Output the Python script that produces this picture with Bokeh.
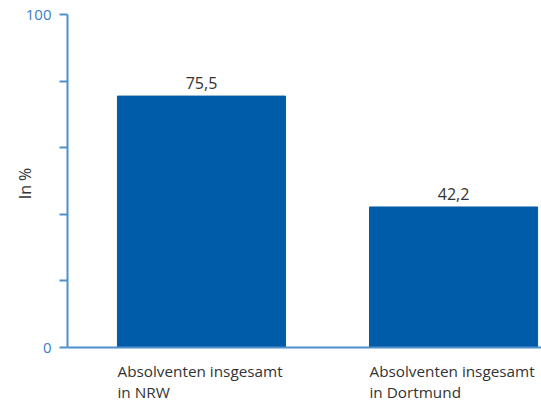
from bokeh.plotting import figure
from bokeh.layouts import column
from bokeh.models import Range1d, FixedTicker, ColumnDataSource, Span
from bokeh.core.properties import value
from bokeh.embed import file_html
from bokeh.resources import INLINE

cat_line1 = ["Absolventen insgesamt", "Absolventen insgesamt"]
cat_line2 = ["in NRW", "in Dortmund"]
values = [75.5, 42.2]
y_ticks = [0, 20, 40, 60, 80, 100]
y_tick_labels = {0: "0", 100: "100"}
y_label = "In %"

FONT = "Open Sans"
BAR = "#005ca8"
AXIS = "#4f8fcb"
TICKTXT = "#3a80c3"
TXT = "#333333"
bar_width = 0.667

xs = list(range(len(values)))
src = ColumnDataSource(dict(x=xs, top=values,
                            lab=[f"{v:.1f}".replace(".", ",") for v in values]))
cat_src = ColumnDataSource(dict(x=[x - bar_width / 2 for x in xs], y=[1] * len(xs),
                                l1=cat_line1, l2=cat_line2))

p = figure(width=541, height=360, output_backend="svg", toolbar_location=None,
           x_range=Range1d(-0.5317, 1.349), y_range=Range1d(-1.5, 100),
           x_axis_location=None,
           min_border_left=67, min_border_right=0, min_border_top=14, min_border_bottom=8)
p.outline_line_color = None
p.grid.grid_line_color = None

p.vbar(x="x", top="top", width=bar_width, bottom=0, color=BAR, source=src)
p.text(x="x", y="top", text="lab", source=src, text_align="center",
       text_baseline="alphabetic", y_offset=-13, text_font=value(FONT),
       text_font_size="16px", text_color=TXT)

# baseline (x axis line)
p.add_layout(Span(location=0, dimension="width", line_color=AXIS, line_width=2))

# y axis
ya = p.yaxis[0]
ya.bounds = (0, 100)
ya.ticker = FixedTicker(ticks=y_ticks)
ya.major_label_overrides = {t: y_tick_labels.get(t, "") for t in y_ticks}
ya.axis_line_color = AXIS
ya.axis_line_width = 2
ya.major_tick_line_color = AXIS
ya.major_tick_line_width = 2
ya.major_tick_out = 8
ya.major_tick_in = 0
ya.minor_tick_line_color = None
ya.major_label_text_color = TICKTXT
ya.major_label_text_font = FONT
ya.major_label_text_font_size = "15px"
ya.major_label_standoff = 8
ya.axis_label = y_label
ya.axis_label_text_font = FONT
ya.axis_label_text_font_size = "16px"
ya.axis_label_text_font_style = "normal"
ya.axis_label_text_color = TXT
ya.axis_label_standoff = -13

# category labels strip below, sharing the x scale
q = figure(width=541, height=40, output_backend="svg", toolbar_location=None,
           x_range=p.x_range, y_range=Range1d(0, 1),
           x_axis_location=None, y_axis_location=None,
           min_border_left=67, min_border_right=0, min_border_top=0, min_border_bottom=0)
q.outline_line_color = None
q.grid.grid_line_color = None
q.text(x="x", y="y", text="l1", source=cat_src, text_align="left",
       text_baseline="alphabetic", y_offset=10, text_font=value(FONT),
       text_font_size="15.3px", text_color=TXT)
q.text(x="x", y="y", text="l2", source=cat_src, text_align="left",
       text_baseline="alphabetic", y_offset=31, text_font=value(FONT),
       text_font_size="15.3px", text_color=TXT)

open("out.html", "w").write(file_html(column(p, q, spacing=0), INLINE))
